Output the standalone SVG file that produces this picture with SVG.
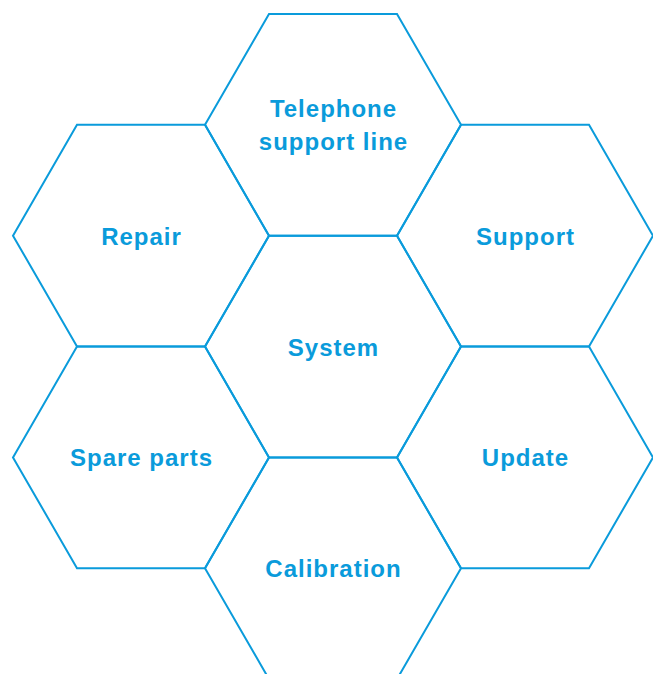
<svg xmlns="http://www.w3.org/2000/svg" width="653" height="674" viewBox="0 0 653 674">
<defs>
<style>
.hex{fill:none;stroke:#0A9BDB;stroke-width:2;stroke-linejoin:miter}
.lbl{font-family:"Liberation Sans",Arial,sans-serif;font-weight:bold;font-size:24px;letter-spacing:1px;fill:#0A9BDB;text-anchor:middle}
</style>
<polygon id="hx" points="-128,0 -64,-110.85 64,-110.85 128,0 64,110.85 -64,110.85"/>
</defs>
<rect width="653" height="674" fill="#fff"/>
<g id="connectors"/>
<g id="telephone" transform="translate(333,124.85)"><use href="#hx" class="hex"/><text class="lbl" x="0.5" y="-8">Telephone</text><text class="lbl" x="0.5" y="25">support line</text></g>
<g id="repair" transform="translate(141,235.7)"><use href="#hx" class="hex"/><text class="lbl" x="0.5" y="9">Repair</text></g>
<g id="support" transform="translate(525,235.7)"><use href="#hx" class="hex"/><text class="lbl" x="0.5" y="9">Support</text></g>
<g id="system" transform="translate(333,346.55)"><use href="#hx" class="hex"/><text class="lbl" x="0.5" y="9">System</text></g>
<g id="spare" transform="translate(141,457.4)"><use href="#hx" class="hex"/><text class="lbl" x="0.5" y="9">Spare parts</text></g>
<g id="update" transform="translate(525,457.4)"><use href="#hx" class="hex"/><text class="lbl" x="0.5" y="9">Update</text></g>
<g id="calibration" transform="translate(333,568.25)"><use href="#hx" class="hex"/><text class="lbl" x="0.5" y="9">Calibration</text></g>
</svg>
